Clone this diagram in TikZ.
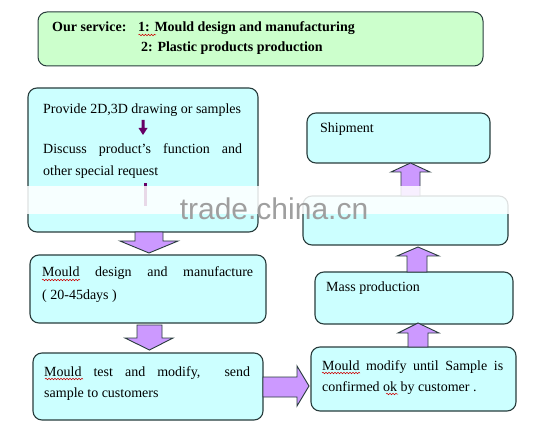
\documentclass[tikz,border=0pt]{standalone}
\usepackage{fontspec}
\setmainfont{Liberation Serif}
\newfontfamily\wmfont{Liberation Sans}
\usetikzlibrary{decorations.pathmorphing}
\definecolor{boxcyan}{RGB}{204,255,255}
\definecolor{boxgreen}{RGB}{204,255,204}
\definecolor{lav}{RGB}{204,153,255}
\definecolor{edge}{RGB}{40,60,60}
\definecolor{darkpurp}{RGB}{102,0,102}
\tikzset{
  stepbox/.style={draw=edge, line width=1.1pt, rounded corners=9pt, fill=boxcyan},
  topbox/.style={draw=edge, line width=1pt, rounded corners=9pt, fill=boxgreen},
  txt/.style={anchor=base west, inner sep=0pt, font=\fontsize{14}{16}\selectfont},
  btxt/.style={anchor=base west, inner sep=0pt, font=\fontsize{14}{16}\selectfont\bfseries},
  fatarrow/.style={draw=edge, line width=0.9pt, fill=lav, line join=miter},
  smallarrow/.style={fill=darkpurp, draw=none},
  squig/.style={draw=red!80!black, line width=0.5pt, decorate, decoration={snake, amplitude=0.8pt, segment length=3pt}}
}
\begin{document}
\begin{tikzpicture}[x=1pt, y=-1pt]
\useasboundingbox (0,0) rectangle (546,438);
\fill[white] (0,0) rectangle (546,438);

% top box
\draw[topbox] (38,12) rectangle (483,66);
\node[btxt] (s1) at (52,32) {Our service:};
\node[btxt] (s2) at (138,32) {1: Mould design and manufacturing};
\node[btxt] (s3) at (141,52) {2: Plastic products production};

% boxes
\draw[stepbox] (28,88) rectangle (258,232);
\draw[stepbox] (30,255) rectangle (266,323);
\draw[stepbox] (33,353) rectangle (263,420);
\draw[stepbox] (311,347) rectangle (516,411);
\draw[stepbox] (315,272) rectangle (513,324);
\draw[stepbox] (303,196) rectangle (508,245);
\draw[stepbox] (307,113) rectangle (490,163);

% box1 text
\node[txt] (p1) at (43,114) {Provide 2D,3D drawing or samples};
\node[txt] (p2) at (43,154) {\makebox[199pt][s]{Discuss product's function and}};
\node[txt] (p3) at (43,176) {other special request};
\fill[smallarrow] (141.5,120) -- (144.5,120) -- (144.5,128) -- (147.5,128) -- (143,135) -- (138.5,128) -- (141.5,128) -- cycle;
\fill[smallarrow] (143.5,183) -- (147,183) -- (147,206) -- (143.5,206) -- cycle;

% box2 text
\node[txt] (m1) at (42,277) {\makebox[211pt][s]{Mould design and manufacture}};
\node[txt] (m2) at (42,299) {( 20-45days )};
% box3 text
\node[txt] (t1) at (44,376) {\makebox[206pt][s]{Mould test and modify,\hspace{10pt} send}};
\node[txt] (t2) at (44,397) {sample to customers};
% box4 text
\node[txt] (u1) at (322,370) {\makebox[181pt][s]{Mould modify until Sample is}};
\node[txt] (u2) at (322,391) {confirmed ok by customer .};
% mass
\node[txt] (mp) at (326,292) {Mass production};
% shipment
\node[txt] (sh) at (320,133) {Shipment};

% spellcheck squiggles
\draw[squig] (138.5,35) -- (156,35);
\draw[squig] (42,280) -- (80,280);
\draw[squig] (45,379) -- (83,379);
\draw[squig] (322,373) -- (360,373);
\draw[squig] (386,394) -- (398,394);

% fat arrows
\draw[fatarrow] (135,232) -- (163,232) -- (163,241) -- (178,241) -- (149,253) -- (120,241) -- (135,241) -- cycle;
\draw[fatarrow] (137,325) -- (162,325) -- (162,338) -- (173,338) -- (149.5,350) -- (125,338) -- (137,338) -- cycle;
\draw[fatarrow] (263,377) -- (297,377) -- (297,366) -- (309,386) -- (297,406) -- (297,397) -- (263,397) -- cycle;
\draw[fatarrow] (408,347) -- (408,333) -- (398,333) -- (418,323) -- (439,333) -- (428,333) -- (428,347) -- cycle;
\draw[fatarrow] (407,272) -- (407,256) -- (397,256) -- (418,247) -- (439,256) -- (427,256) -- (427,272) -- cycle;
\draw[fatarrow] (401,196) -- (401,172) -- (391,172) -- (410.5,163) -- (430,172) -- (420,172) -- (420,196) -- cycle;

% watermark band
\fill[white, opacity=0.85] (20,186) rectangle (525,214);
\node[inner sep=0pt, text=gray!75, font=\wmfont\fontsize{30}{30}\selectfont] (wm) at (274,209) {trade.china.cn};
\end{tikzpicture}
\end{document}
